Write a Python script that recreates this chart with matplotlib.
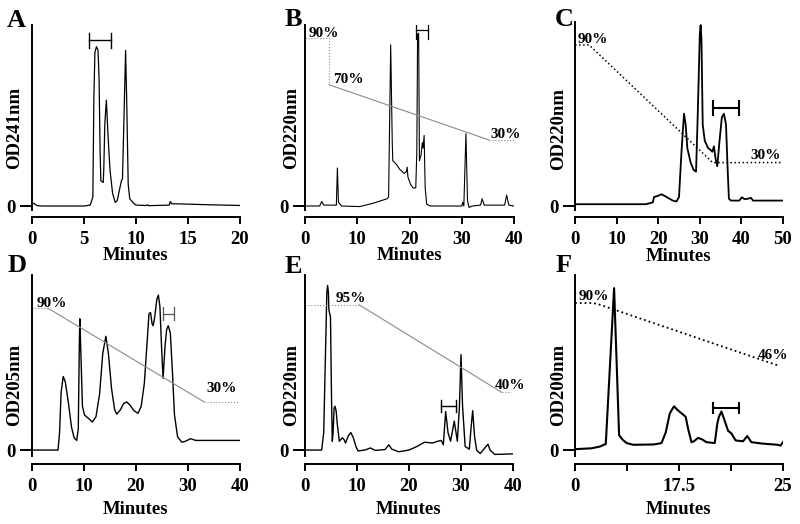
import matplotlib
matplotlib.use("Agg")
import matplotlib.pyplot as plt

plt.rcParams["font.family"] = ["Liberation Serif", "DejaVu Serif"]
plt.rcParams["font.weight"] = "bold"

# ---- chromatogram traces (minutes, relative absorbance) ----
a_t = [0, 0.15, 0.5, 1, 5.0, 5.6, 5.85, 5.95, 6.05, 6.2, 6.35, 6.45, 6.55, 6.62,
       6.85, 6.9, 7.0, 7.15, 7.3, 7.5, 7.75, 8.0, 8.2, 8.45, 8.6, 8.7, 8.85, 9.0,
       9.1, 9.25, 9.4, 9.7, 10, 11, 11.1, 11.2, 13.2, 13.3, 13.45, 14, 17, 20]
a_od = [0.02, 0.015, 0.002, 0.0, 0.0, 0.005, 0.05, 0.6, 0.85, 0.88, 0.86, 0.7, 0.3, 0.14,
        0.13, 0.2, 0.45, 0.585, 0.4, 0.2, 0.07, 0.02, 0.03, 0.1, 0.14, 0.15, 0.5, 0.86,
        0.6, 0.12, 0.04, 0.02, 0.005, 0.003, 0.007, 0.002, 0.005, 0.025, 0.012, 0.012, 0.007, 0.003]

b_t = [0, 2.8, 3.2, 3.6, 6.0, 6.2, 6.4, 7, 10.5, 13, 15.7, 16.0, 16.4, 16.7, 16.8,
       17.5, 18.2, 19.0, 19.4, 19.55, 19.7, 20.2, 20.7, 21.2, 21.4, 21.55, 21.75, 21.9,
       22.2, 22.45, 22.6, 22.8, 23.0, 23.3, 24, 30.0, 30.2, 30.4, 30.8, 31.1, 31.4, 32,
       33.6, 33.9, 34.3, 38.2, 38.6, 39.0, 40]
b_od = [0.0, 0.0, 0.025, 0.005, 0.005, 0.21, 0.02, 0.0, -0.003, 0.015, 0.04, 0.05, 0.89, 0.35, 0.25,
        0.23, 0.2, 0.18, 0.19, 0.215, 0.16, 0.12, 0.10, 0.1, 0.3, 0.95, 0.955, 0.25,
        0.28, 0.35, 0.32, 0.39, 0.1, 0.01, 0.0, 0.0, 0.02, 0.0, 0.40, 0.03, -0.008, 0.0,
        0.005, 0.04, 0.005, 0.005, 0.06, 0.005, 0.0]

c_t = [0, 17, 18.7, 19.0, 19.8, 20.8, 22, 23.5, 24.4, 25.0, 25.6, 26.2, 26.6, 27.0,
       27.8, 28.5, 29.1, 29.5, 30.0, 30.2, 30.4, 30.7, 31.2, 32.0, 32.6, 33.0, 33.4,
       33.8, 34.2, 34.7, 35.3, 35.8, 36.3, 36.7, 37.0, 37.5, 39.5, 40.1, 40.8, 41.5,
       42.3, 42.8, 50]
c_od = [0.01, 0.01, 0.02, 0.05, 0.055, 0.065, 0.05, 0.03, 0.025, 0.05, 0.3, 0.51, 0.45, 0.32,
        0.24, 0.2, 0.19, 0.5, 0.95, 1.0, 0.92, 0.45, 0.36, 0.32, 0.31, 0.3, 0.33,
        0.26, 0.22, 0.35, 0.49, 0.51, 0.45, 0.2, 0.04, 0.03, 0.03, 0.048, 0.038, 0.04,
        0.045, 0.03, 0.03]

d_t = [0, 5.0, 5.3, 5.6, 6.0, 6.4, 7.0, 7.6, 8.1, 8.6, 8.9, 9.1, 9.2, 9.45, 9.7, 10.1,
       10.9, 11.6, 12.3, 13.0, 13.6, 14.2, 14.7, 15.3, 15.9, 16.3, 17.0, 17.6, 18.2,
       18.9, 19.6, 20.4, 21.0, 21.6, 22.1, 22.5, 22.8, 23.1, 23.3, 23.6, 24.0, 24.3,
       24.6, 24.9, 25.2, 25.6, 25.9, 26.2, 26.6, 27.0, 27.4, 28.0, 28.8, 29.5, 30.5,
       31.5, 40]
d_od = [0, 0, 0.1, 0.33, 0.42, 0.39, 0.27, 0.13, 0.07, 0.055, 0.12, 0.6, 0.75, 0.5, 0.25, 0.2,
        0.18, 0.16, 0.19, 0.32, 0.55, 0.65, 0.55, 0.35, 0.23, 0.205, 0.23, 0.265, 0.275,
        0.255, 0.225, 0.21, 0.25, 0.38, 0.6, 0.78, 0.785, 0.72, 0.71, 0.76, 0.86, 0.885,
        0.82, 0.6, 0.41, 0.6, 0.69, 0.71, 0.67, 0.45, 0.2, 0.075, 0.045, 0.05, 0.065,
        0.055, 0.055]

e_t = [0, 3.2, 3.6, 3.9, 4.2, 4.35, 4.5, 4.6, 4.9, 5.1, 5.25, 5.4, 5.6, 5.8, 6.0, 6.2,
       6.6, 6.9, 7.2, 7.5, 7.8, 8.3, 8.8, 9.3, 9.8, 10.2, 11.5, 12.6, 13.5, 15.4, 16.1,
       16.7, 18.0, 20.0, 21.5, 23.0, 24.5, 25.5, 26.2, 26.6, 27.05, 27.5, 28.0, 28.7,
       29.3, 29.7, 30.0, 30.3, 30.8, 31.6, 32.0, 32.25, 32.6, 33.0, 33.7, 34.8, 35.2,
       35.6, 36.5, 40]
e_od = [0, 0, 0.1, 0.5, 0.9, 0.94, 0.9, 0.8, 0.76, 0.3, 0.05, 0.1, 0.24, 0.25, 0.22, 0.15,
        0.05, 0.06, 0.07, 0.06, 0.04, 0.08, 0.1, 0.07, 0.02, -0.005, 0.0, 0.012, -0.002, 0.003, 0.03,
        0.005, -0.01, 0.0, 0.02, 0.045, 0.04, 0.05, 0.055, 0.03, 0.22, 0.1, 0.05, 0.165,
        0.05, 0.25, 0.545, 0.25, 0.02, 0.005, 0.15, 0.225, 0.08, 0.0, -0.02, 0.02, 0.033,
        0.0, -0.025, -0.022]

f_t = [0, 2.0, 3.0, 3.7, 4.7, 5.3, 5.7, 6.2, 7.0, 9.5, 10.4, 10.9, 11.4, 11.9, 12.3,
       12.8, 13.3, 13.6, 14.0, 14.3, 14.8, 15.3, 15.8, 16.8, 17.1, 17.3, 17.6, 17.9,
       18.4, 18.8, 19.3, 20.2, 20.7, 21.2, 22.5, 24.4, 24.7, 25.0]
f_od = [0.005, 0.01, 0.02, 0.035, 0.925, 0.085, 0.06, 0.04, 0.03, 0.032, 0.04, 0.1, 0.21, 0.25, 0.23,
        0.21, 0.19, 0.12, 0.045, 0.05, 0.07, 0.06, 0.045, 0.04, 0.15, 0.19, 0.22, 0.18,
        0.11, 0.095, 0.055, 0.05, 0.08, 0.045, 0.037, 0.03, 0.025, 0.045]

# ---- solvent gradients (corner points) and their labels ----
b_grad_t = [0, 4.6, 4.6, 35.2, 40]
b_grad_v = [0.93, 0.93, 0.67, 0.365, 0.365]
c_grad_t = [0, 3.4, 33.1, 50]
c_grad_v = [0.89, 0.89, 0.24, 0.24]
d_grad_t = [0, 3.1, 33.1, 40]
d_grad_v = [0.81, 0.81, 0.275, 0.275]
e_grad_t = [0, 10.4, 37.8, 39.7]
e_grad_v = [0.83, 0.83, 0.33, 0.33]
f_grad_t = [0, 2.2, 3.0, 24.6]
f_grad_v = [0.84, 0.84, 0.83, 0.48]

b_pct = ["90%", "70%", "30%"]
c_pct = ["90%", "30%"]
d_pct = ["90%", "30%"]
e_pct = ["95%", "40%"]
f_pct = ["90%", "46%"]

# collected fraction (start, end) in minutes
a_frac = (5.5, 7.6)
b_frac = (21.3, 23.6)
c_frac = (33.2, 39.4)
d_frac = (25.1, 27.3)
e_frac = (26.1, 29.0)
f_frac = (16.6, 19.7)

ylabels = ["OD241nm", "OD220nm", "OD220nm", "OD205nm", "OD220nm", "OD200nm"]
letters = ["A", "B", "C", "D", "E", "F"]

W, H = 800, 524
fig = plt.figure(figsize=(W / 100, H / 100), dpi=100)


def px_axes(left, right, top, bottom):
    return fig.add_axes([left / W, 1 - bottom / H, (right - left) / W, (bottom - top) / H])


def style(ax, xmax, ylim, ylabel, ylab_x, ylab_y, xlab_y, offset):
    ax.set_xlim(0, xmax)
    ax.set_ylim(*ylim)
    ax.spines["top"].set_visible(False)
    ax.spines["right"].set_visible(False)
    ax.spines["left"].set_linewidth(1.4)
    ax.spines["bottom"].set_linewidth(1.4)
    ax.spines["bottom"].set_position(("outward", offset))
    ax.set_yticks([0])
    ax.tick_params(axis="y", length=9, width=1.4, pad=3, labelsize=13.5)
    ax.tick_params(axis="x", length=5, width=1.4, pad=5, labelsize=13.5)
    ax.set_ylabel(ylabel, fontsize=13.5, fontweight="bold", va="center")
    ax.yaxis.set_label_coords(ylab_x, ylab_y)
    ax.set_xlabel("Minutes", fontsize=13.5, fontweight="bold", va="top")
    ax.xaxis.set_label_coords(0.5, xlab_y)


def bracket(ax, span, y, cap, color="black", lw=1.0):
    ax.plot(span, [y, y], color=color, lw=lw)
    for x in span:
        ax.plot([x, x], [y - cap, y + cap], color=color, lw=lw)


top_ylim = (-0.022, 1.0)
bot_ylim = (-0.034, 1.0)
grey = "#8a8a8a"

# ---- A ----
ax = px_axes(32, 240, 25, 210)
ax.plot(a_t, a_od, color="black", lw=0.9)
bracket(ax, a_frac, 0.915, 0.04)
style(ax, 20, top_ylim, ylabels[0], -0.082, 0.443, -0.2, 5)
ax.set_xticks([0, 5, 10, 15, 20])

# ---- B ----
ax = px_axes(305, 514, 25, 210)
ax.plot(b_t, b_od, color="black", lw=0.8)
ax.plot(b_grad_t[:3], b_grad_v[:3], color=grey, lw=0.8, ls=":")
ax.plot(b_grad_t[2:4], b_grad_v[2:4], color=grey, lw=0.8)
ax.plot(b_grad_t[3:], b_grad_v[3:], color=grey, lw=0.8, ls=":")
ax.text(0.6, 0.935, b_pct[0], fontsize=11, va="baseline")
ax.text(5.4, 0.68, b_pct[1], fontsize=11, va="baseline")
ax.text(35.4, 0.375, b_pct[2], fontsize=11, va="baseline")
bracket(ax, b_frac, 0.97, 0.045, lw=0.9)
style(ax, 40, top_ylim, ylabels[1], -0.062, 0.443, -0.2, 5)
ax.set_xticks([0, 10, 20, 30, 40])

# ---- C ----
ax = px_axes(575, 783, 22, 210)
ax.plot(c_t, c_od, color="black", lw=1.3)
ax.plot(c_grad_t, c_grad_v, color="black", lw=1.1, ls=":")
ax.text(0.7, 0.9, c_pct[0], fontsize=11, va="baseline")
ax.text(42.2, 0.26, c_pct[1], fontsize=11, va="baseline")
bracket(ax, c_frac, 0.54, 0.038, lw=1.5)
style(ax, 50, (-0.022, 1.017), ylabels[2], -0.077, 0.43, -0.2, 5)
ax.set_xticks([0, 10, 20, 30, 40, 50])

# ---- D ----
ax = px_axes(32, 240, 275, 456)
ax.plot(d_t, d_od, color="black", lw=1.0)
ax.plot(d_grad_t[:2], d_grad_v[:2], color=grey, lw=0.8, ls=":")
ax.plot(d_grad_t[1:3], d_grad_v[1:3], color=grey, lw=0.8)
ax.plot(d_grad_t[2:], d_grad_v[2:], color=grey, lw=0.8, ls=":")
ax.text(0.8, 0.82, d_pct[0], fontsize=11, va="baseline")
ax.text(33.6, 0.33, d_pct[1], fontsize=11, va="baseline")
bracket(ax, d_frac, 0.78, 0.037, color="#555555", lw=0.9)
style(ax, 40, bot_ylim, ylabels[3], -0.082, 0.392, -0.25, 6)
ax.set_xticks([0, 10, 20, 30, 40])

# ---- E ----
ax = px_axes(305, 513, 275, 456)
ax.plot(e_t, e_od, color="black", lw=1.0)
ax.plot(e_grad_t[:2], e_grad_v[:2], color=grey, lw=0.8, ls=":")
ax.plot(e_grad_t[1:3], e_grad_v[1:3], color=grey, lw=0.8)
ax.plot(e_grad_t[2:], e_grad_v[2:], color=grey, lw=0.8, ls=":")
ax.text(5.8, 0.847, e_pct[0], fontsize=11, va="baseline")
ax.text(36.5, 0.35, e_pct[1], fontsize=11, va="baseline")
bracket(ax, e_frac, 0.25, 0.035, lw=1.0)
style(ax, 40, bot_ylim, ylabels[4], -0.063, 0.392, -0.25, 6)
ax.set_xticks([0, 10, 20, 30, 40])

# ---- F ----
ax = px_axes(575, 783, 275, 456)
ax.plot(f_t, f_od, color="black", lw=1.5)
ax.plot(f_grad_t, f_grad_v, color="black", lw=1.3, ls=":")
ax.text(0.4, 0.855, f_pct[0], fontsize=11, va="baseline")
ax.text(22.0, 0.52, f_pct[1], fontsize=11, va="baseline")
bracket(ax, f_frac, 0.24, 0.03, lw=1.5)
style(ax, 25, bot_ylim, ylabels[5], -0.077, 0.392, -0.25, 6)
ax.set_xticks([0, 6.25, 12.5, 18.75, 25])
ax.set_xticklabels(["0", "", "17.5", "", "25"])

# panel letters
for letter, (x, y) in zip(letters, [(7, 27), (285, 26), (555, 26),
                                     (8, 272), (285, 273), (556, 272)]):
    fig.text(x / W, 1 - y / H, letter, fontsize=19, fontweight="bold", va="baseline")

fig.savefig("out.png", dpi=100)
